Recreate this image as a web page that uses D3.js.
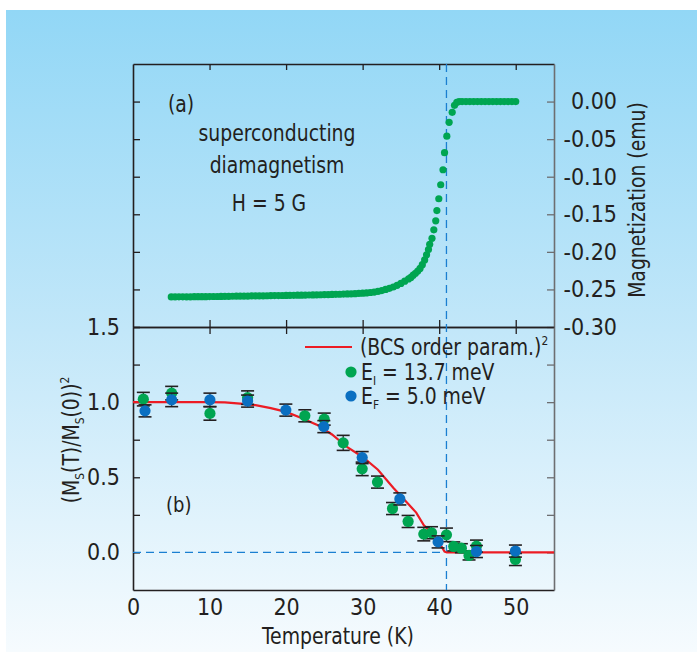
<!DOCTYPE html>
<html>
<head>
<meta charset="utf-8">
<script src="https://cdn.jsdelivr.net/npm/d3@7"></script>
<style>
  body { margin: 0; background: #ffffff; }
  svg text { font-family: "Liberation Sans Narrow", "Arial Narrow", "DejaVu Sans Condensed", sans-serif; fill: #231f20; }
  .axis text { font-size: 23px; }
</style>
</head>
<body>
<div id="chart"></div>
<script>
// ---- panel (a): magnetization vs temperature ----
const magTemps = [
  5.0, 5.5, 6.0, 6.5, 7.0, 7.5, 8.0, 8.5, 9.0, 9.5, 10.0, 10.5, 11.0, 11.5, 12.0, 12.5, 13.0, 13.5,
  14.0, 14.5, 15.0, 15.5, 16.0, 16.5, 17.0, 17.5, 18.0, 18.5, 19.0, 19.5, 20.0, 20.5, 21.0, 21.5,
  22.0, 22.5, 23.0, 23.5, 24.0, 24.5, 25.0, 25.5, 26.0, 26.5, 27.0, 27.5, 28.0, 28.5, 29.0, 29.5,
  30.0, 30.5, 31.0, 31.5, 32.0, 32.5, 33.0, 33.5, 34.0, 34.5, 35.0, 35.5, 36.0, 36.3, 36.6, 36.9,
  37.2, 37.5, 37.8, 38.1, 38.35, 38.6, 38.76, 39.06, 39.3, 39.55, 39.7, 39.95, 40.2, 40.5, 40.7,
  41.0, 41.3, 41.7, 42.0, 42.3, 42.6, 43.0, 43.5, 44.0, 44.5, 45.0, 45.5, 46.0, 46.5, 47.0, 47.5,
  48.0, 48.5, 49.0, 49.5, 50.0
];
const magValues = [
  -0.2600, -0.2600, -0.2599, -0.2599, -0.2598, -0.2598, -0.2597, -0.2597, -0.2596, -0.2596, -0.2595, -0.2594, -0.2594, -0.2593, -0.2592, -0.2592, -0.2591, -0.2590,
  -0.2590, -0.2589, -0.2588, -0.2587, -0.2587, -0.2586, -0.2585, -0.2584, -0.2583, -0.2582, -0.2582, -0.2581, -0.2580, -0.2579, -0.2578, -0.2577,
  -0.2576, -0.2575, -0.2574, -0.2573, -0.2572, -0.2571, -0.2570, -0.2568, -0.2567, -0.2565, -0.2564, -0.2562, -0.2560, -0.2558, -0.2556, -0.2553,
  -0.2550, -0.2546, -0.2541, -0.2535, -0.2527, -0.2515, -0.2500, -0.2485, -0.2468, -0.2445, -0.2420, -0.2390, -0.2360, -0.2340, -0.2310, -0.2285,
  -0.2255, -0.2220, -0.2170, -0.2107, -0.2040, -0.1970, -0.1900, -0.1820, -0.1707, -0.1587, -0.1450, -0.1293, -0.1107, -0.0907, -0.0680,
  -0.0460, -0.0276, -0.0143, -0.0050, -0.0010, 0.0000, 0.0000, 0.0000, 0.0000, 0.0000, 0.0000, 0.0000, 0.0000, 0.0000, 0.0000, 0.0000,
  0.0000, 0.0000, 0.0000, 0.0000, 0.0000
];
const magTicks = [0.00, -0.05, -0.10, -0.15, -0.20, -0.25, -0.30];

// ---- panel (b): squared order parameter ----
const bcsTemps  = [0, 5, 10, 12, 14, 16, 18, 20, 22, 24, 26, 28, 30, 32, 34, 36, 37, 38, 39, 40, 40.7, 41, 55];
const bcsValues = [1.0, 1.0, 1.0, 0.998, 0.99, 0.98, 0.96, 0.935, 0.895, 0.85, 0.785, 0.70, 0.635, 0.55, 0.43, 0.32, 0.265, 0.18, 0.13, 0.065, 0.005, 0, 0];

const greenTemps  = [1.35, 5.05, 10.05, 14.97, 22.45, 24.98, 27.46, 29.94, 31.94, 33.9, 35.94, 37.99, 39.0, 40.95, 41.9, 42.9, 43.9, 44.87, 49.96];
const greenValues = [1.02, 1.06, 0.925, 1.03, 0.909, 0.887, 0.729, 0.556, 0.468, 0.292, 0.206, 0.122, 0.131, 0.117, 0.040, 0.028, -0.020, 0.042, -0.047];
const greenErrors = [0.045, 0.045, 0.045, 0.045, 0.04, 0.04, 0.05, 0.045, 0.04, 0.04, 0.04, 0.045, 0.04, 0.045, 0.03, 0.03, 0.03, 0.04, 0.04];

const blueTemps  = [1.57, 5.05, 10.05, 14.97, 19.97, 24.93, 29.94, 34.86, 39.86, 44.87, 49.96];
const blueValues = [0.942, 1.015, 1.015, 1.007, 0.947, 0.837, 0.631, 0.356, 0.070, 0.006, 0.009];
const blueErrors = [0.04, 0.045, 0.045, 0.04, 0.04, 0.04, 0.04, 0.04, 0.04, 0.04, 0.04];

const tempTicks = [0, 10, 20, 30, 40, 50];
const ratioTicks = [-0.25, 0, 0.25, 0.5, 0.75, 1.0, 1.25, 1.5];
const ratioLabels = [0, 0.5, 1.0, 1.5];
const tcTemp = 40.95;

const GREEN = "#00a551";
const BLUE = "#0a6fc1";
const RED = "#ec1c24";
const DASH = "#1a7fd1";
const SQUEEZE = 0.91; // the original face is narrower than the installed one

function drawChart(width, height, selector) {
  let margin = { left: 133, right: 554, top: 64, mid: 327, bottom: 590 };

  let svg = d3.select(selector).append("svg")
    .attr("width", width)
    .attr("height", height);

  // background gradient panel
  let grad = svg.append("defs").append("linearGradient")
    .attr("id", "bg").attr("x1", 0).attr("y1", 0).attr("x2", 0).attr("y2", 1);
  grad.append("stop").attr("offset", "0%").attr("stop-color", "#92d7f6");
  grad.append("stop").attr("offset", "50%").attr("stop-color", "#c2e7f9");
  grad.append("stop").attr("offset", "100%").attr("stop-color", "#f6fbfe");
  svg.append("rect").attr("x", 6).attr("y", 10).attr("width", width - 6).attr("height", height - 10)
    .attr("fill", "url(#bg)");

  // text placed in a squeezed frame
  function label(x, y, rot, size, anchor) {
    return svg.append("g")
      .attr("transform", `translate(${x},${y}) rotate(${rot}) scale(${SQUEEZE},1)`)
      .append("text")
      .attr("font-size", size)
      .attr("text-anchor", anchor || "start");
  }

  let x = d3.scaleLinear().domain([0, 55]).range([margin.left, margin.right]);
  let yTop = d3.scaleLinear().domain([-0.30, 0.05]).range([margin.mid, margin.top]);
  let yBot = d3.scaleLinear().domain([-0.25, 1.5]).range([margin.bottom, margin.mid]);

  const fmtMinus = f => (d => f(d).replace("\u2212", "-"));

  // ---- axes, panel (a) ----
  svg.append("g").attr("class", "axis")
    .attr("transform", `translate(${margin.left},0)`)
    .call(d3.axisLeft(yTop).tickValues(magTicks).tickSize(-7).tickSizeOuter(0).tickFormat(""));
  svg.append("g").attr("class", "axis")
    .attr("transform", `translate(0,${margin.top})`)
    .call(d3.axisTop(x).tickValues(tempTicks.slice(1)).tickSize(-6).tickSizeOuter(0).tickFormat(""));
  svg.append("g").attr("class", "axis")
    .attr("transform", `translate(0,${margin.mid})`)
    .call(d3.axisBottom(x).tickValues(tempTicks.slice(1)).tickSize(-7).tickSizeOuter(0).tickFormat(""));
  let rightTop = svg.append("g").attr("class", "axis right")
    .attr("transform", `translate(${margin.right},0)`)
    .call(d3.axisRight(yTop).tickValues(magTicks).tickSize(-7).tickSizeOuter(0)
      .tickFormat(fmtMinus(d3.format(".2f"))));
  rightTop.selectAll("text").attr("x", 63).attr("text-anchor", "end");

  // ---- axes, panel (b) ----
  svg.append("g").attr("class", "axis")
    .attr("transform", `translate(0,${margin.mid})`)
    .call(d3.axisTop(x).tickValues(tempTicks.slice(1)).tickSize(-7).tickSizeOuter(0).tickFormat(""));
  svg.append("g").attr("class", "axis")
    .attr("transform", `translate(0,${margin.bottom})`)
    .call(d3.axisBottom(x).tickValues(tempTicks).tickSize(0).tickPadding(9).tickSizeOuter(0));
  svg.append("g").attr("class", "axis")
    .attr("transform", `translate(${margin.left},0)`)
    .call(d3.axisLeft(yBot).tickValues(ratioTicks.filter(d => d > -0.25)).tickSize(-7).tickSizeOuter(0)
      .tickPadding(13)
      .tickFormat(d => ratioLabels.includes(d) ? d3.format(".1f")(d) : ""));
  svg.append("g").attr("class", "axis right")
    .attr("transform", `translate(${margin.right},0)`)
    .call(d3.axisRight(yBot).tickValues(ratioTicks.filter(d => d > -0.25 && d < 1.5)).tickSize(-7).tickSizeOuter(0).tickFormat(""));

  svg.selectAll(".axis path").attr("stroke", "#231f20").attr("stroke-width", 1.6);
  svg.selectAll(".axis line").attr("stroke", "#231f20").attr("stroke-width", 1.3);
  svg.selectAll(".axis.right path").attr("stroke", "#6d6e71");
  svg.selectAll(".axis.right line").attr("stroke", "#6d6e71");
  svg.selectAll(".axis text").attr("fill", "#231f20");

  // dashed guides at Tc and zero
  svg.append("line")
    .attr("x1", x(tcTemp)).attr("x2", x(tcTemp))
    .attr("y1", margin.top).attr("y2", margin.bottom)
    .attr("stroke", DASH).attr("stroke-width", 1.3).attr("stroke-dasharray", "8,5");
  svg.append("line")
    .attr("x1", x(0)).attr("x2", x(tcTemp))
    .attr("y1", yBot(0)).attr("y2", yBot(0))
    .attr("stroke", DASH).attr("stroke-width", 1.3).attr("stroke-dasharray", "8,5");

  // ---- panel (a) data ----
  svg.append("g").selectAll("circle")
    .data(magTemps.map((t, i) => ({ t: t, m: magValues[i] })))
    .join("circle")
    .attr("cx", d => x(d.t))
    .attr("cy", d => yTop(d.m))
    .attr("r", 3.6)
    .attr("fill", GREEN);

  // ---- panel (b) data ----
  let line = d3.line().x(d => x(d.t)).y(d => yBot(d.v));
  svg.append("path")
    .datum(bcsTemps.map((t, i) => ({ t: t, v: bcsValues[i] })))
    .attr("d", line)
    .attr("fill", "none")
    .attr("stroke", RED)
    .attr("stroke-width", 2.2);

  function drawSeries(temps, values, errors, color) {
    let data = temps.map((t, i) => ({ t: t, v: values[i], e: errors[i] }));
    let g = svg.append("g");
    data.forEach(d => {
      let cx = x(d.t);
      g.append("line").attr("x1", cx).attr("x2", cx)
        .attr("y1", yBot(d.v - d.e)).attr("y2", yBot(d.v + d.e))
        .attr("stroke", "#231f20").attr("stroke-width", 1.2);
      [d.v - d.e, d.v + d.e].forEach(v => {
        g.append("line").attr("x1", cx - 6.5).attr("x2", cx + 6.5)
          .attr("y1", yBot(v)).attr("y2", yBot(v))
          .attr("stroke", "#231f20").attr("stroke-width", 1.6);
      });
    });
    g.selectAll("circle").data(data).join("circle")
      .attr("cx", d => x(d.t))
      .attr("cy", d => yBot(d.v))
      .attr("r", 5.6)
      .attr("fill", color);
  }
  drawSeries(greenTemps, greenValues, greenErrors, GREEN);
  drawSeries(blueTemps, blueValues, blueErrors, BLUE);

  // ---- legend ----
  svg.append("line").attr("x1", 305).attr("x2", 352).attr("y1", 347).attr("y2", 347)
    .attr("stroke", RED).attr("stroke-width", 2.2);
  let t1 = label(360, 355, 0, 23);
  t1.append("tspan").text("(BCS order param.)");
  t1.append("tspan").attr("font-size", 13).attr("dy", -10).text("2");
  svg.append("circle").attr("cx", 351).attr("cy", 372).attr("r", 5.6).attr("fill", GREEN);
  let t2 = label(361, 380, 0, 23);
  t2.append("tspan").text("E");
  t2.append("tspan").attr("font-size", 13).attr("dy", 5).text("I");
  t2.append("tspan").attr("dy", -5).text(" = 13.7 meV");
  svg.append("circle").attr("cx", 351).attr("cy", 396).attr("r", 5.6).attr("fill", BLUE);
  let t3 = label(361, 404, 0, 23);
  t3.append("tspan").text("E");
  t3.append("tspan").attr("font-size", 13).attr("dy", 5).text("F");
  t3.append("tspan").attr("dy", -5).text(" = 5.0 meV");

  // ---- annotations ----
  label(168, 112, 0, 23).text("(a)");
  label(277, 141, 0, 23, "middle").text("superconducting");
  label(277, 173, 0, 23, "middle").text("diamagnetism");
  label(269, 211, 0, 23, "middle").text("H = 5 G");
  label(166, 512, 0, 22).text("(b)");

  // axis titles
  label(338, 644, 0, 23, "middle").text("Temperature (K)");
  label(645, 200, -90, 23, "middle").text("Magnetization (emu)");

  let yl = label(79, 440, -90, 23, "middle");
  yl.append("tspan").text("(M");
  yl.append("tspan").attr("font-size", 13).attr("dy", 5).text("S");
  yl.append("tspan").attr("dy", -5).text("(T)/M");
  yl.append("tspan").attr("font-size", 13).attr("dy", 5).text("S");
  yl.append("tspan").attr("dy", -5).text("(0))");
  yl.append("tspan").attr("font-size", 13).attr("dy", -10).text("2");
}

drawChart(697, 652, "#chart");
</script>
</body>
</html>
